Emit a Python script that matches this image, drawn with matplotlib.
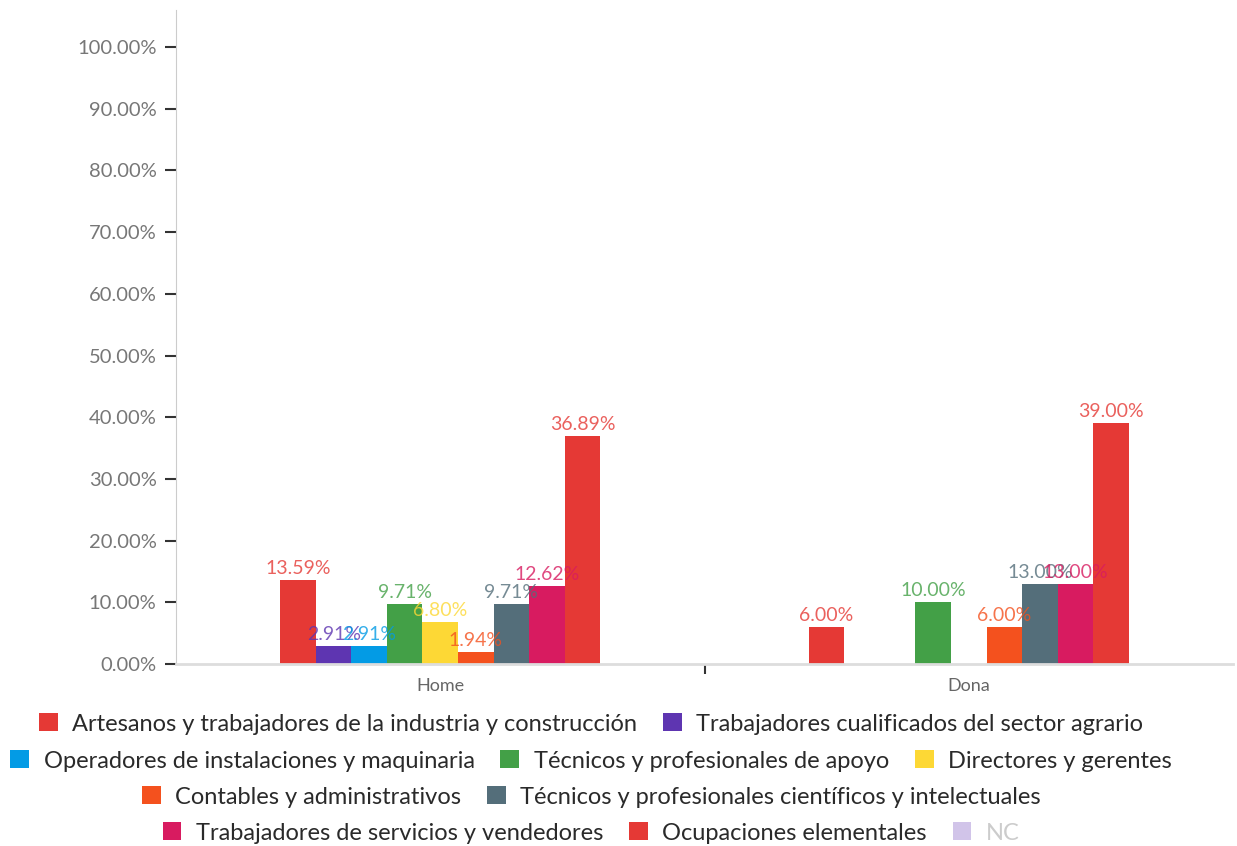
import matplotlib
matplotlib.use("Agg")
import matplotlib.pyplot as plt
from matplotlib.patches import Patch
import numpy as np

# --------------------------------------------------------------
# DATA
# --------------------------------------------------------------
categories = ["Home", "Dona"]

series = [
    "Artesanos y trabajadores de la industria y construcción",
    "Trabajadores cualificados del sector agrario",
    "Operadores de instalaciones y maquinaria",
    "Técnicos y profesionales de apoyo",
    "Directores y gerentes",
    "Contables y administrativos",
    "Técnicos y profesionales científicos y intelectuales",
    "Trabajadores de servicios y vendedores",
    "Ocupaciones elementales",
    "NC",
]

home_values = [13.59, 2.91, 2.91, 9.71, 6.80, 1.94, 9.71, 12.62, 36.89, 0.0]
dona_values = [6.00, 0.0, 0.0, 10.00, 0.0, 6.00, 13.00, 13.00, 39.00, 0.0]

colors = ["#E53935", "#5E35B1", "#039BE5", "#43A047", "#FDD835",
          "#F4511E", "#546E7A", "#D81B60", "#E53935", "#D1C4E9"]

legend_rows = [[0, 1], [2, 3, 4], [5, 6], [7, 8, 9]]

# --------------------------------------------------------------
# PLOT
# --------------------------------------------------------------
plt.rcParams["font.family"] = ["Lato", "DejaVu Sans"]

W, H = 1237, 846
fig = plt.figure(figsize=(W / 100, H / 100), dpi=100)
ax = fig.add_axes([176 / W, 1 - 664 / H, (1233 - 176) / W, (664 - 10) / H])

values = np.array([home_values, dona_values])  # shape (2, 10)
n_slots = 9  # NC has no bar slot
bar_w = 35.5 / 528
x = np.arange(len(categories))

for i in range(n_slots):
    offs = (i - (n_slots - 1) / 2) * bar_w
    vals = values[:, i]
    ax.bar(x + offs, vals, width=bar_w, color=colors[i], linewidth=0)
    for xi, v in zip(x, vals):
        if v > 0:
            ax.text(xi + offs, v + 0.5, f"{v:.2f}%", ha="center", va="bottom",
                    fontsize=14, color=colors[i], alpha=0.8)

ax.set_xlim(-0.5, 1.5)
ax.set_ylim(0, 106)
ax.set_yticks(np.arange(0, 101, 10))
ax.set_yticklabels([f"{t:.2f}%" for t in np.arange(0, 101, 10)])
ax.set_xticks(x)
ax.set_xticklabels(categories)
ax.set_xticks([0.5], minor=True)

ax.tick_params(axis="y", length=8, width=1.5, color="#333333", labelsize=14.5,
               labelcolor="#777777", pad=6)
ax.tick_params(axis="x", which="major", length=0, labelsize=13,
               labelcolor="#666666", pad=10)
ax.tick_params(axis="x", which="minor", length=7, width=1.5, color="#333333")

for s in ["top", "right"]:
    ax.spines[s].set_visible(False)
ax.spines["left"].set_color("#cccccc")
ax.spines["bottom"].set_color("#dddddd")
ax.spines["bottom"].set_linewidth(2)

# legend, one centred row at a time
row_y = [724, 761, 797, 833]
for row, yy in zip(legend_rows, row_y):
    handles = [Patch(facecolor=colors[i], edgecolor="none") for i in row]
    labels = [series[i] for i in row]
    leg = fig.legend(handles, labels, loc="center", bbox_to_anchor=(591 / W, 1 - yy / H),
                     ncol=len(row), frameon=False, fontsize=17,
                     handlelength=0.8, handleheight=0.8, handletextpad=0.6,
                     columnspacing=1.1, borderpad=0, borderaxespad=0)
    for i, t in zip(row, leg.get_texts()):
        t.set_color("#cccccc" if series[i] == "NC" else "#2a2a2a")

fig.savefig("out.png", dpi=100)
